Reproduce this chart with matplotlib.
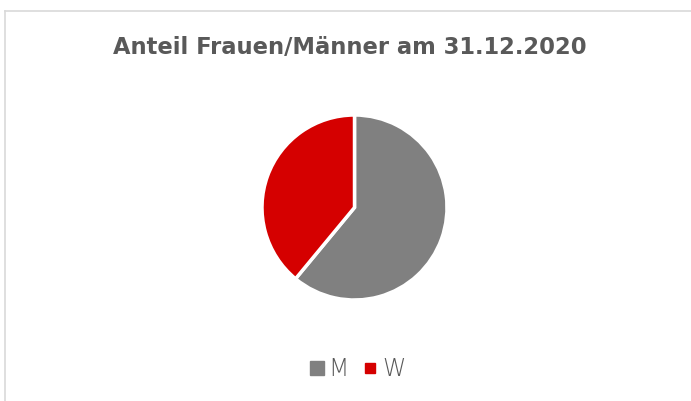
import matplotlib.pyplot as plt
from matplotlib.lines import Line2D

labels = ["M", "W"]
shares = [61, 39]
colors = ["#808080", "#d50000"]

fig = plt.figure(figsize=(6.91, 4.01), dpi=100)
W, H = 691, 401

# chart frame (only top and left edge visible in the crop)
fig.add_artist(Line2D([5.5 / W, 1], [1 - 10.5 / H, 1 - 10.5 / H], color="#d9d9d9", lw=1.2))
fig.add_artist(Line2D([5.5 / W, 5.5 / W], [0, 1 - 10.5 / H], color="#d9d9d9", lw=1.2))

fig.text(350 / W, 1 - 48 / H, "Anteil Frauen/Männer am 31.12.2020",
         ha="center", va="center", fontsize=16.3, fontweight="bold",
         color="#595959", family="DejaVu Sans")

r = 92.5
cx, cy = 354.5, 207.5
ax = fig.add_axes([(cx - r) / W, 1 - (cy + r) / H, 2 * r / W, 2 * r / H])
ax.pie(shares, colors=colors, startangle=90, counterclock=False,
       wedgeprops=dict(edgecolor="white", linewidth=2.5))
ax.set_xlim(-1, 1)
ax.set_ylim(-1, 1)
ax.set_aspect("auto")
ax.axis("off")

handles = [Line2D([], [], ls="none", marker="s", markersize=9.4, color=colors[0]),
           Line2D([], [], ls="none", marker="s", markersize=6.5, color=colors[1])]
fig.legend(handles, labels, loc="center", bbox_to_anchor=(357.5 / W, 1 - 369 / H),
           ncol=2, frameon=False, handlelength=0.6, handletextpad=0.2,
           columnspacing=0.6, labelcolor="#595959",
           prop=dict(family="DejaVu Sans", size=17, weight="light"))

fig.savefig("out.png", dpi=100)
